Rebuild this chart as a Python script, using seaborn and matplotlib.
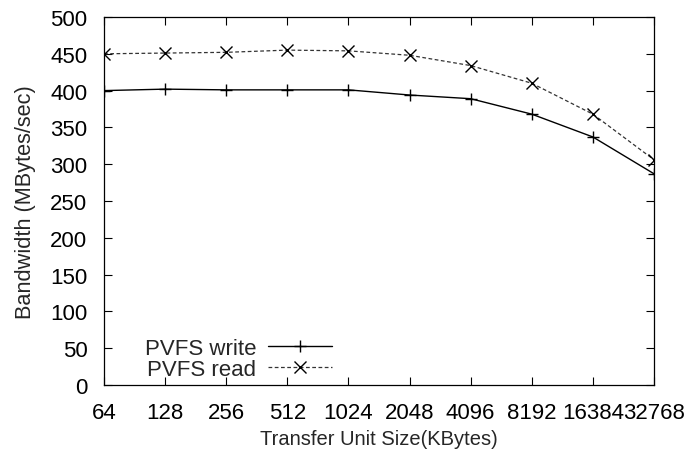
import matplotlib
matplotlib.use("Agg")
import matplotlib.pyplot as plt
from matplotlib import font_manager
import seaborn as sns
import pandas as pd

sizes = [64, 128, 256, 512, 1024, 2048, 4096, 8192, 16384, 32768]
write_bw = [400, 402, 401, 401, 401, 394, 389, 368, 337, 287]
read_bw = [450, 451, 452, 455, 454, 448, 434, 410, 368, 306]
y_ticks = [0, 50, 100, 150, 200, 250, 300, 350, 400, 450, 500]

df = pd.DataFrame({
    "size": sizes * 2,
    "bw": write_bw + read_bw,
    "series": ["PVFS write"] * len(sizes) + ["PVFS read"] * len(sizes),
})

sns.set_style("ticks")
plt.rcParams["font.family"] = ["Liberation Sans", "DejaVu Sans"]

FS = 16
names = {f.name for f in font_manager.fontManager.ttflist}
if "Liberation Sans Narrow" in names:
    xlab_font = dict(family=["Liberation Sans Narrow", "DejaVu Sans"], fontsize=16)
else:
    xlab_font = dict(family=["Liberation Sans", "DejaVu Sans"], fontsize=14.5)

fig = plt.figure(figsize=(6.86, 4.56), dpi=100)
ax = fig.add_axes([104 / 686, (456 - 386) / 456, 550 / 686, 368 / 456])

sns.lineplot(data=df[df.series == "PVFS write"], x="size", y="bw", ax=ax,
             color="black", lw=1.0, marker="+", markersize=8, mew=1.0,
             mec="black", mfc="black", label="PVFS write")
sns.lineplot(data=df[df.series == "PVFS read"], x="size", y="bw", ax=ax,
             color="#333333", lw=0.9, linestyle=(0, (3, 2)), marker="x",
             markersize=8.5, mew=1.0, mec="black", mfc="black",
             label="PVFS read")

ax.set_xscale("log", base=2)
ax.set_xlim(64, 32768)
ax.set_ylim(0, 500)
ax.set_xticks(sizes)
ax.set_xticklabels([str(s) for s in sizes])
ax.minorticks_off()
ax.set_yticks(y_ticks)
ax.tick_params(direction="in", top=True, right=True, length=6, width=0.8,
               labelsize=FS, colors="black")
ax.tick_params(axis="y", pad=12)
ax.tick_params(axis="x", pad=12)
for s in ax.spines.values():
    s.set_visible(True)
    s.set_linewidth(0.9)
    s.set_color("black")

ax.set_xlabel("Transfer Unit Size(KBytes)", **xlab_font)
ax.set_ylabel("Bandwidth (MBytes/sec)", fontsize=15.7)
ax.xaxis.set_label_coords(0.5, -(430 - 386) / 368)
ax.yaxis.set_label_coords(-(104 - 36) / 550, 0.5)

ax.legend(loc="lower right", bbox_to_anchor=((332 - 104) / 550, (386 - 381) / 368),
          frameon=False, markerfirst=False, fontsize=FS, handlelength=2.9,
          handletextpad=0.5, labelspacing=0.0, borderpad=0, borderaxespad=0)

fig.savefig("out.png", dpi=100)
